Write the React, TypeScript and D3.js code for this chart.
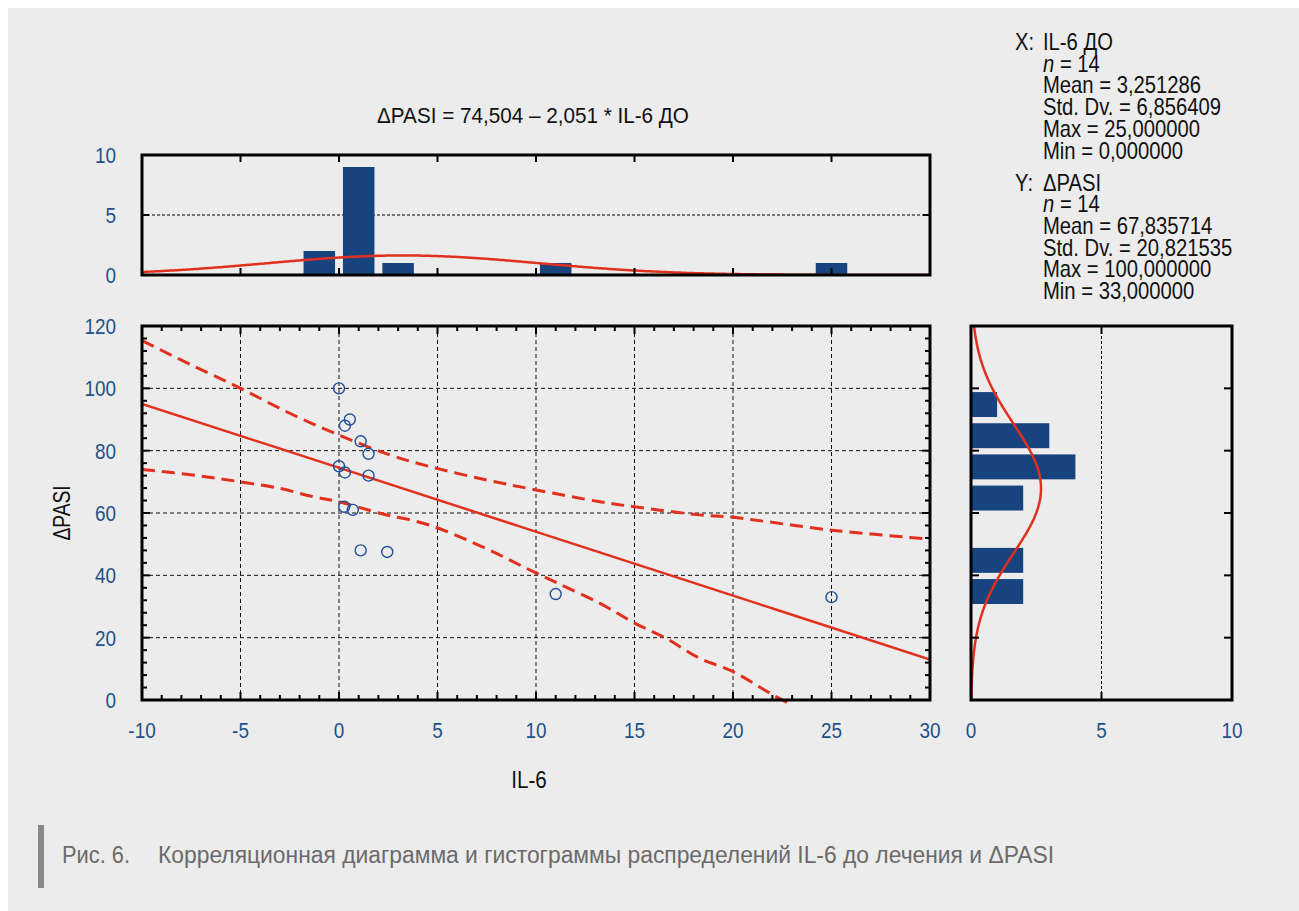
import React from "react";
import * as d3 from "d3";

// Observations: IL-6 before treatment vs. ΔPASI
const il6 = [0, 0.55, 0.3, 1.1, 1.5, 0, 0.3, 1.5, 0.27, 0.7, 1.1, 2.45, 11, 25];
const dpasi = [100, 90, 88, 83, 79, 75, 73, 72, 62, 61, 48, 47.5, 34, 33];

// Histogram of IL-6 (bin width 2)
const il6BinCenters = [-1, 1, 3, 11, 25];
const il6BinCounts = [2, 9, 1, 1, 1];
const il6BinWidth = 2;

// Histogram of ΔPASI (bin width 10)
const pasiBinStarts = [90, 80, 70, 60, 40, 30];
const pasiBinCounts = [1, 3, 4, 2, 2, 2];
const pasiBinWidth = 10;

// Regression and its 95% confidence band
const intercept = 74.504;
const slope = -2.051;
const upperBand: [number, number][] = [
  [-10, 115.3], [-7.5, 107.5], [-5, 100], [-2.5, 92], [0, 85], [2.6, 78.6], [4.6, 74.9],
  [7.5, 70.6], [10, 67.4], [13.25, 63.6], [15, 62], [18.3, 59.4], [20, 58.6], [25, 54.5], [30, 51.6],
];
const lowerBand: [number, number][] = [
  [-10, 74], [-7.2, 72], [-5, 70], [-3, 67.9], [-1.3, 65.2], [0, 63.6], [2.08, 59.9], [4.6, 56.1],
  [7.5, 48.5], [9.53, 42.2], [11.13, 37.4], [13.25, 31], [15.03, 24.6], [16.6, 19.8], [18.3, 13.4],
  [20, 9.1], [21.9, 2.1], [22.8, -1],
];

// Descriptive statistics
const xStats = { name: "IL-6 ДО", n: 14, mean: 3.251286, sd: 6.856409, max: 25, min: 0 };
const yStats = { name: "ΔPASI", n: 14, mean: 67.835714, sd: 20.821535, max: 100, min: 33 };

const xTicks = [-10, -5, 0, 5, 10, 15, 20, 25, 30];
const yTicks = [0, 20, 40, 60, 80, 100, 120];
const topHistTicks = [0, 5, 10];
const sideHistTicks = [0, 5, 10];

const titleText = "ΔPASI = 74,504 – 2,051 * IL-6 ДО";
const captionLabel = "Рис. 6.";
const captionText = "Корреляционная диаграмма и гистограммы распределений IL-6 до лечения и ΔPASI";

const FONT = "'Liberation Sans', Arial, Helvetica, sans-serif";
const BG = "#ececec";
const BLUE_TEXT = "#1f5189";
const BAR = "#17437f";
const RED = "#e2301f";
const POINT = "#1f4f98";

const fmt = (v: number, d: number) => v.toFixed(d).replace(".", ",");

function normalPdf(x: number, m: number, s: number) {
  return Math.exp(-0.5 * ((x - m) / s) ** 2) / (s * Math.sqrt(2 * Math.PI));
}

// Condensed text: horizontally squeezed around its anchor point
function T({
  x, y, size, sx = 1, anchor = "start", fill = "#111", rotate = 0, children,
}: {
  x: number; y: number; size: number; sx?: number; anchor?: "start" | "middle" | "end";
  fill?: string; rotate?: number; children: React.ReactNode;
}) {
  return (
    <text
      transform={`translate(${x},${y}) rotate(${rotate}) scale(${sx},1)`}
      fontSize={size}
      textAnchor={anchor}
      fill={fill}
    >
      {children}
    </text>
  );
}

export default function App() {
  // main scatter scales
  const x = d3.scaleLinear().domain([-10, 30]).range([142, 930]);
  const y = d3.scaleLinear().domain([0, 120]).range([700, 326]);
  // top histogram
  const yTop = d3.scaleLinear().domain([0, 10]).range([275, 155]);
  // side histogram
  const xSide = d3.scaleLinear().domain([0, 10]).range([971, 1232]);

  const regLine = d3.line<number>().x((v) => x(v)).y((v) => y(intercept + slope * v));
  const band = d3
    .line<[number, number]>()
    .x((d) => x(d[0]))
    .y((d) => y(d[1]))
    .curve(d3.curveCatmullRom.alpha(0.5));

  const xs = d3.range(-10, 30.01, 0.1);
  const topCurve = d3
    .line<number>()
    .x((v) => x(v))
    .y((v) => yTop(xStats.n * il6BinWidth * normalPdf(v, xStats.mean, xStats.sd)))(xs);
  const ys = d3.range(0, 120.01, 0.25);
  const sideCurve = d3
    .line<number>()
    .x((v) => xSide(yStats.n * pasiBinWidth * normalPdf(v, yStats.mean, yStats.sd)))
    .y((v) => y(v))(ys);

  const minorX = d3.range(-10, 30.01, 1);
  const minorY = d3.range(0, 120.01, 4);

  const frame = { fill: "none", stroke: "#000", strokeWidth: 3 } as const;
  const TICK = 22;
  const TSX = 0.86;

  return (
    <svg
      width={1291}
      height={903}
      style={{ position: "fixed", left: 8, top: 8, display: "block" }}
      fontFamily={FONT}
    >
      <rect width={1291} height={903} fill={BG} />
      <g transform="translate(-8,-8)">
        <defs>
          <clipPath id="clipMain">
            <rect x={142} y={300} width={788} height={410} />
          </clipPath>
          <clipPath id="clipTop">
            <rect x={142} y={155} width={788} height={120} />
          </clipPath>
          <clipPath id="clipSide">
            <rect x={971} y={326} width={261} height={374} />
          </clipPath>
        </defs>

        {/* Title */}
        <T x={533} y={123} size={22} sx={0.94} anchor="middle">{titleText}</T>

        {/* ===== Top histogram ===== */}
        <line x1={142} x2={930} y1={yTop(5)} y2={yTop(5)} stroke="#000" strokeWidth={1} strokeDasharray="3,2" />
        {il6BinCenters.map((c, i) => (
          <rect
            key={i}
            x={x(c - 0.4 * il6BinWidth)}
            width={x(c + 0.4 * il6BinWidth) - x(c - 0.4 * il6BinWidth)}
            y={yTop(il6BinCounts[i])}
            height={yTop(0) - yTop(il6BinCounts[i])}
            fill={BAR}
          />
        ))}
        <path d={topCurve ?? ""} fill="none" stroke={RED} strokeWidth={2.5} clipPath="url(#clipTop)" />
        {xTicks.map((t) => (
          <g key={t}>
            <line x1={x(t)} x2={x(t)} y1={155} y2={162} stroke="#000" strokeWidth={2} />
            <line x1={x(t)} x2={x(t)} y1={275} y2={268} stroke="#000" strokeWidth={2} />
          </g>
        ))}
        {topHistTicks.map((t) => (
          <g key={t}>
            <line x1={142} x2={149} y1={yTop(t)} y2={yTop(t)} stroke="#000" strokeWidth={2} />
            <line x1={930} x2={923} y1={yTop(t)} y2={yTop(t)} stroke="#000" strokeWidth={2} />
            <T x={116} y={yTop(t) + 8} size={TICK} sx={TSX} anchor="end" fill={BLUE_TEXT}>{t}</T>
          </g>
        ))}
        <rect x={142} y={155} width={788} height={120} {...frame} />

        {/* ===== Scatter plot ===== */}
        {xTicks.slice(1, -1).map((t) => (
          <line key={t} x1={x(t)} x2={x(t)} y1={326} y2={700} stroke="#111" strokeWidth={1} strokeDasharray="4,3" />
        ))}
        {yTicks.slice(1, -1).map((t) => (
          <line key={t} x1={142} x2={930} y1={y(t)} y2={y(t)} stroke="#111" strokeWidth={1} strokeDasharray="4,3" />
        ))}
        <g clipPath="url(#clipMain)">
          <path d={band(upperBand) ?? ""} fill="none" stroke={RED} strokeWidth={3} strokeDasharray="13,7" />
          <path d={band(lowerBand) ?? ""} fill="none" stroke={RED} strokeWidth={3} strokeDasharray="13,7" />
          <path d={regLine([-10, 30]) ?? ""} fill="none" stroke={RED} strokeWidth={2.5} />
        </g>
        {il6.map((v, i) => (
          <circle key={i} cx={x(v)} cy={y(dpasi[i])} r={5.5} fill="none" stroke={POINT} strokeWidth={1.4} />
        ))}
        {minorX.map((t) => {
          const len = t % 5 === 0 ? 8 : 5;
          return (
            <g key={t}>
              <line x1={x(t)} x2={x(t)} y1={700} y2={700 - len} stroke="#000" strokeWidth={2} />
              <line x1={x(t)} x2={x(t)} y1={326} y2={326 + len} stroke="#000" strokeWidth={2} />
            </g>
          );
        })}
        {minorY.map((t) => {
          const len = t % 20 === 0 ? 8 : 5;
          return (
            <g key={t}>
              <line x1={142} x2={142 + len} y1={y(t)} y2={y(t)} stroke="#000" strokeWidth={2} />
              <line x1={930} x2={930 - len} y1={y(t)} y2={y(t)} stroke="#000" strokeWidth={2} />
            </g>
          );
        })}
        <rect x={142} y={326} width={788} height={374} {...frame} />
        {xTicks.map((t) => (
          <T key={t} x={x(t)} y={738} size={TICK} sx={TSX} anchor="middle" fill={BLUE_TEXT}>{t}</T>
        ))}
        {yTicks.map((t) => (
          <T key={t} x={116} y={y(t) + 8} size={TICK} sx={TSX} anchor="end" fill={BLUE_TEXT}>{t}</T>
        ))}
        <T x={529} y={788} size={24} sx={0.86} anchor="middle">IL-6</T>
        <T x={70} y={513} size={24} sx={0.8} anchor="middle" rotate={-90}>ΔPASI</T>

        {/* ===== Side histogram ===== */}
        <line x1={xSide(5)} x2={xSide(5)} y1={326} y2={700} stroke="#000" strokeWidth={1} strokeDasharray="3,2" />
        {pasiBinStarts.map((s, i) => (
          <rect
            key={i}
            x={xSide(0)}
            width={xSide(pasiBinCounts[i]) - xSide(0)}
            y={y(s + 0.88 * pasiBinWidth)}
            height={y(s + 0.08 * pasiBinWidth) - y(s + 0.88 * pasiBinWidth)}
            fill={BAR}
          />
        ))}
        <path d={sideCurve ?? ""} fill="none" stroke={RED} strokeWidth={2.5} clipPath="url(#clipSide)" />
        {yTicks.map((t) => (
          <g key={t}>
            <line x1={971} x2={979} y1={y(t)} y2={y(t)} stroke="#000" strokeWidth={2} />
            <line x1={1232} x2={1224} y1={y(t)} y2={y(t)} stroke="#000" strokeWidth={2} />
          </g>
        ))}
        {sideHistTicks.map((t) => (
          <g key={t}>
            <line x1={xSide(t)} x2={xSide(t)} y1={326} y2={334} stroke="#000" strokeWidth={2} />
            <line x1={xSide(t)} x2={xSide(t)} y1={700} y2={692} stroke="#000" strokeWidth={2} />
            <T x={xSide(t)} y={738} size={TICK} sx={TSX} anchor="middle" fill={BLUE_TEXT}>{t}</T>
          </g>
        ))}
        <rect x={971} y={326} width={261} height={374} {...frame} />

        {/* ===== Descriptive statistics ===== */}
        {[
          { s: xStats, label: "X:", top: 50 },
          { s: yStats, label: "Y:", top: 190.5 },
        ].map(({ s, label, top }) => {
          const lines: React.ReactNode[] = [
            s.name,
            <>
              <tspan fontStyle="italic">n</tspan> = {s.n}
            </>,
            `Mean = ${fmt(s.mean, 6)}`,
            `Std. Dv. = ${fmt(s.sd, 6)}`,
            `Max = ${fmt(s.max, 6)}`,
            `Min = ${fmt(s.min, 6)}`,
          ];
          return (
            <g key={label}>
              <T x={1015} y={top} size={23} sx={0.88}>{label}</T>
              {lines.map((l, i) => (
                <T key={i} x={1043} y={top + i * 21.7} size={23} sx={0.88}>{l}</T>
              ))}
            </g>
          );
        })}

        {/* ===== Caption ===== */}
        <rect x={38} y={825} width={6} height={63} fill="#8a8a8a" />
        <T x={62} y={863} size={23} sx={0.95} fill="#6a6a6a">{captionLabel}</T>
        <text x={158} y={863} fontSize={23} fill="#6a6a6a" textLength={896} lengthAdjust="spacingAndGlyphs">
          {captionText}
        </text>
      </g>
    </svg>
  );
}
